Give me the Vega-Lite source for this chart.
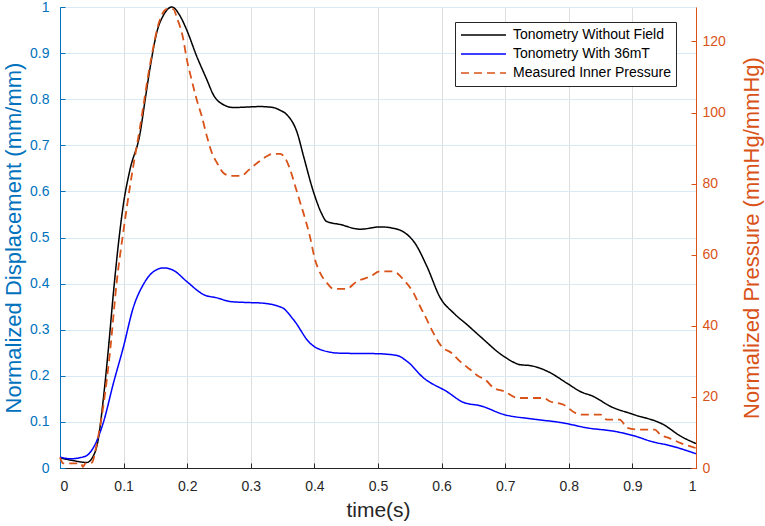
{
  "$schema": "https://vega.github.io/schema/vega-lite/v6.json",
  "description": "Normalized displacement (tonometry) and measured inner pressure over one cycle, dual y axes.",
  "autosize": {"type": "none"},
  "padding": {"left": 60, "top": 7, "right": 69, "bottom": 58},
  "width": 636,
  "height": 461,
  "background": "white",
  "config": {
    "view": {"stroke": null},
    "font": "Liberation Sans",
    "axis": {"labelFont": "Liberation Sans", "titleFont": "Liberation Sans", "titleFontWeight": "normal", "domainWidth": 1, "tickWidth": 1},
    "legend": {
      "title": null,
      "orient": "none",
      "legendX": 395,
      "legendY": 15,
      "direction": "vertical",
      "symbolType": "stroke",
      "symbolSize": 2025,
      "symbolStrokeWidth": 1.6,
      "clipHeight": 16,
      "labelFontSize": 14,
      "labelColor": "#000000",
      "labelFont": "Liberation Sans",
      "labelOffset": 6,
      "rowPadding": 3,
      "padding": 5,
      "strokeColor": "#262626",
      "fillColor": "#ffffff",
      "cornerRadius": 0
    }
  },
  "data": {
    "values": [
      {"series": "Tonometry Without Field", "t": 0, "v": 0.022},
      {"series": "Tonometry Without Field", "t": 0.021, "v": 0.016},
      {"series": "Tonometry Without Field", "t": 0.042, "v": 0.012},
      {"series": "Tonometry Without Field", "t": 0.052, "v": 0.025},
      {"series": "Tonometry Without Field", "t": 0.06, "v": 0.061},
      {"series": "Tonometry Without Field", "t": 0.068, "v": 0.148},
      {"series": "Tonometry Without Field", "t": 0.076, "v": 0.257},
      {"series": "Tonometry Without Field", "t": 0.084, "v": 0.38},
      {"series": "Tonometry Without Field", "t": 0.092, "v": 0.488},
      {"series": "Tonometry Without Field", "t": 0.1, "v": 0.575},
      {"series": "Tonometry Without Field", "t": 0.11, "v": 0.647},
      {"series": "Tonometry Without Field", "t": 0.126, "v": 0.727},
      {"series": "Tonometry Without Field", "t": 0.134, "v": 0.8},
      {"series": "Tonometry Without Field", "t": 0.142, "v": 0.871},
      {"series": "Tonometry Without Field", "t": 0.152, "v": 0.944},
      {"series": "Tonometry Without Field", "t": 0.163, "v": 0.983},
      {"series": "Tonometry Without Field", "t": 0.176, "v": 1.0},
      {"series": "Tonometry Without Field", "t": 0.189, "v": 0.98},
      {"series": "Tonometry Without Field", "t": 0.199, "v": 0.951},
      {"series": "Tonometry Without Field", "t": 0.215, "v": 0.893},
      {"series": "Tonometry Without Field", "t": 0.231, "v": 0.842},
      {"series": "Tonometry Without Field", "t": 0.241, "v": 0.81},
      {"series": "Tonometry Without Field", "t": 0.257, "v": 0.788},
      {"series": "Tonometry Without Field", "t": 0.273, "v": 0.782},
      {"series": "Tonometry Without Field", "t": 0.315, "v": 0.784},
      {"series": "Tonometry Without Field", "t": 0.335, "v": 0.782},
      {"series": "Tonometry Without Field", "t": 0.346, "v": 0.776},
      {"series": "Tonometry Without Field", "t": 0.357, "v": 0.766},
      {"series": "Tonometry Without Field", "t": 0.373, "v": 0.727},
      {"series": "Tonometry Without Field", "t": 0.383, "v": 0.676},
      {"series": "Tonometry Without Field", "t": 0.399, "v": 0.597},
      {"series": "Tonometry Without Field", "t": 0.411, "v": 0.553},
      {"series": "Tonometry Without Field", "t": 0.419, "v": 0.535},
      {"series": "Tonometry Without Field", "t": 0.441, "v": 0.528},
      {"series": "Tonometry Without Field", "t": 0.472, "v": 0.518},
      {"series": "Tonometry Without Field", "t": 0.504, "v": 0.523},
      {"series": "Tonometry Without Field", "t": 0.524, "v": 0.52},
      {"series": "Tonometry Without Field", "t": 0.539, "v": 0.513},
      {"series": "Tonometry Without Field", "t": 0.558, "v": 0.488},
      {"series": "Tonometry Without Field", "t": 0.577, "v": 0.437},
      {"series": "Tonometry Without Field", "t": 0.598, "v": 0.369},
      {"series": "Tonometry Without Field", "t": 0.619, "v": 0.336},
      {"series": "Tonometry Without Field", "t": 0.64, "v": 0.311},
      {"series": "Tonometry Without Field", "t": 0.661, "v": 0.285},
      {"series": "Tonometry Without Field", "t": 0.698, "v": 0.242},
      {"series": "Tonometry Without Field", "t": 0.724, "v": 0.224},
      {"series": "Tonometry Without Field", "t": 0.74, "v": 0.222},
      {"series": "Tonometry Without Field", "t": 0.766, "v": 0.21},
      {"series": "Tonometry Without Field", "t": 0.797, "v": 0.184},
      {"series": "Tonometry Without Field", "t": 0.818, "v": 0.166},
      {"series": "Tonometry Without Field", "t": 0.839, "v": 0.155},
      {"series": "Tonometry Without Field", "t": 0.865, "v": 0.134},
      {"series": "Tonometry Without Field", "t": 0.902, "v": 0.116},
      {"series": "Tonometry Without Field", "t": 0.949, "v": 0.094},
      {"series": "Tonometry Without Field", "t": 0.976, "v": 0.069},
      {"series": "Tonometry Without Field", "t": 1.0, "v": 0.053},

      {"series": "Tonometry With 36mT", "t": 0, "v": 0.024},
      {"series": "Tonometry With 36mT", "t": 0.016, "v": 0.02},
      {"series": "Tonometry With 36mT", "t": 0.039, "v": 0.025},
      {"series": "Tonometry With 36mT", "t": 0.052, "v": 0.043},
      {"series": "Tonometry With 36mT", "t": 0.068, "v": 0.098},
      {"series": "Tonometry With 36mT", "t": 0.084, "v": 0.184},
      {"series": "Tonometry With 36mT", "t": 0.1, "v": 0.264},
      {"series": "Tonometry With 36mT", "t": 0.115, "v": 0.347},
      {"series": "Tonometry With 36mT", "t": 0.131, "v": 0.398},
      {"series": "Tonometry With 36mT", "t": 0.147, "v": 0.426},
      {"series": "Tonometry With 36mT", "t": 0.163, "v": 0.434},
      {"series": "Tonometry With 36mT", "t": 0.178, "v": 0.429},
      {"series": "Tonometry With 36mT", "t": 0.199, "v": 0.405},
      {"series": "Tonometry With 36mT", "t": 0.226, "v": 0.376},
      {"series": "Tonometry With 36mT", "t": 0.247, "v": 0.369},
      {"series": "Tonometry With 36mT", "t": 0.268, "v": 0.361},
      {"series": "Tonometry With 36mT", "t": 0.294, "v": 0.359},
      {"series": "Tonometry With 36mT", "t": 0.315, "v": 0.358},
      {"series": "Tonometry With 36mT", "t": 0.349, "v": 0.348},
      {"series": "Tonometry With 36mT", "t": 0.367, "v": 0.322},
      {"series": "Tonometry With 36mT", "t": 0.393, "v": 0.271},
      {"series": "Tonometry With 36mT", "t": 0.409, "v": 0.257},
      {"series": "Tonometry With 36mT", "t": 0.441, "v": 0.249},
      {"series": "Tonometry With 36mT", "t": 0.498, "v": 0.248},
      {"series": "Tonometry With 36mT", "t": 0.53, "v": 0.244},
      {"series": "Tonometry With 36mT", "t": 0.546, "v": 0.231},
      {"series": "Tonometry With 36mT", "t": 0.572, "v": 0.195},
      {"series": "Tonometry With 36mT", "t": 0.608, "v": 0.166},
      {"series": "Tonometry With 36mT", "t": 0.635, "v": 0.142},
      {"series": "Tonometry With 36mT", "t": 0.661, "v": 0.135},
      {"series": "Tonometry With 36mT", "t": 0.698, "v": 0.116},
      {"series": "Tonometry With 36mT", "t": 0.745, "v": 0.106},
      {"series": "Tonometry With 36mT", "t": 0.79, "v": 0.098},
      {"series": "Tonometry With 36mT", "t": 0.829, "v": 0.087},
      {"series": "Tonometry With 36mT", "t": 0.874, "v": 0.079},
      {"series": "Tonometry With 36mT", "t": 0.902, "v": 0.07},
      {"series": "Tonometry With 36mT", "t": 0.934, "v": 0.056},
      {"series": "Tonometry With 36mT", "t": 0.955, "v": 0.05},
      {"series": "Tonometry With 36mT", "t": 1.0, "v": 0.031},

      {"series": "Measured Inner Pressure", "t": 0, "v": 3.0},
      {"series": "Measured Inner Pressure", "t": 0.005, "v": 1.3},
      {"series": "Measured Inner Pressure", "t": 0.033, "v": 1.3},
      {"series": "Measured Inner Pressure", "t": 0.036, "v": 0.3},
      {"series": "Measured Inner Pressure", "t": 0.04, "v": 1.3},
      {"series": "Measured Inner Pressure", "t": 0.05, "v": 1.5},
      {"series": "Measured Inner Pressure", "t": 0.058, "v": 7},
      {"series": "Measured Inner Pressure", "t": 0.068, "v": 17.3},
      {"series": "Measured Inner Pressure", "t": 0.079, "v": 33.3},
      {"series": "Measured Inner Pressure", "t": 0.089, "v": 52},
      {"series": "Measured Inner Pressure", "t": 0.1, "v": 67},
      {"series": "Measured Inner Pressure", "t": 0.11, "v": 79.2},
      {"series": "Measured Inner Pressure", "t": 0.126, "v": 96.1},
      {"series": "Measured Inner Pressure", "t": 0.142, "v": 113.9},
      {"series": "Measured Inner Pressure", "t": 0.157, "v": 126.1},
      {"series": "Measured Inner Pressure", "t": 0.168, "v": 129.1},
      {"series": "Measured Inner Pressure", "t": 0.178, "v": 129.1},
      {"series": "Measured Inner Pressure", "t": 0.184, "v": 126.6},
      {"series": "Measured Inner Pressure", "t": 0.194, "v": 120.5},
      {"series": "Measured Inner Pressure", "t": 0.199, "v": 115.3},
      {"series": "Measured Inner Pressure", "t": 0.207, "v": 109.2},
      {"series": "Measured Inner Pressure", "t": 0.215, "v": 103.6},
      {"series": "Measured Inner Pressure", "t": 0.223, "v": 98.9},
      {"series": "Measured Inner Pressure", "t": 0.231, "v": 93.3},
      {"series": "Measured Inner Pressure", "t": 0.239, "v": 88.6},
      {"series": "Measured Inner Pressure", "t": 0.247, "v": 85.8},
      {"series": "Measured Inner Pressure", "t": 0.257, "v": 83},
      {"series": "Measured Inner Pressure", "t": 0.268, "v": 82.2},
      {"series": "Measured Inner Pressure", "t": 0.286, "v": 82.2},
      {"series": "Measured Inner Pressure", "t": 0.294, "v": 83.4},
      {"series": "Measured Inner Pressure", "t": 0.31, "v": 85.8},
      {"series": "Measured Inner Pressure", "t": 0.325, "v": 87.7},
      {"series": "Measured Inner Pressure", "t": 0.335, "v": 88.4},
      {"series": "Measured Inner Pressure", "t": 0.346, "v": 88.4},
      {"series": "Measured Inner Pressure", "t": 0.354, "v": 87.2},
      {"series": "Measured Inner Pressure", "t": 0.362, "v": 83.9},
      {"series": "Measured Inner Pressure", "t": 0.37, "v": 79.2},
      {"series": "Measured Inner Pressure", "t": 0.378, "v": 74.5},
      {"series": "Measured Inner Pressure", "t": 0.386, "v": 69.8},
      {"series": "Measured Inner Pressure", "t": 0.393, "v": 65.1},
      {"series": "Measured Inner Pressure", "t": 0.401, "v": 58.6},
      {"series": "Measured Inner Pressure", "t": 0.409, "v": 54.9},
      {"series": "Measured Inner Pressure", "t": 0.42, "v": 52},
      {"series": "Measured Inner Pressure", "t": 0.43, "v": 50.4},
      {"series": "Measured Inner Pressure", "t": 0.45, "v": 50.4},
      {"series": "Measured Inner Pressure", "t": 0.467, "v": 52.5},
      {"series": "Measured Inner Pressure", "t": 0.488, "v": 53.9},
      {"series": "Measured Inner Pressure", "t": 0.503, "v": 55.3},
      {"series": "Measured Inner Pressure", "t": 0.524, "v": 55.3},
      {"series": "Measured Inner Pressure", "t": 0.54, "v": 53},
      {"series": "Measured Inner Pressure", "t": 0.556, "v": 49.2},
      {"series": "Measured Inner Pressure", "t": 0.566, "v": 45.5},
      {"series": "Measured Inner Pressure", "t": 0.577, "v": 41.7},
      {"series": "Measured Inner Pressure", "t": 0.587, "v": 38},
      {"series": "Measured Inner Pressure", "t": 0.6, "v": 34.2},
      {"series": "Measured Inner Pressure", "t": 0.616, "v": 32.3},
      {"series": "Measured Inner Pressure", "t": 0.629, "v": 30},
      {"series": "Measured Inner Pressure", "t": 0.645, "v": 27.7},
      {"series": "Measured Inner Pressure", "t": 0.658, "v": 25.8},
      {"series": "Measured Inner Pressure", "t": 0.669, "v": 24.8},
      {"series": "Measured Inner Pressure", "t": 0.682, "v": 22.5},
      {"series": "Measured Inner Pressure", "t": 0.698, "v": 21.6},
      {"series": "Measured Inner Pressure", "t": 0.72, "v": 19.7},
      {"series": "Measured Inner Pressure", "t": 0.76, "v": 19.7},
      {"series": "Measured Inner Pressure", "t": 0.771, "v": 18.7},
      {"series": "Measured Inner Pressure", "t": 0.792, "v": 17.8},
      {"series": "Measured Inner Pressure", "t": 0.81, "v": 15.5},
      {"series": "Measured Inner Pressure", "t": 0.82, "v": 15},
      {"series": "Measured Inner Pressure", "t": 0.85, "v": 15},
      {"series": "Measured Inner Pressure", "t": 0.86, "v": 13.6},
      {"series": "Measured Inner Pressure", "t": 0.88, "v": 13.6},
      {"series": "Measured Inner Pressure", "t": 0.892, "v": 11.3},
      {"series": "Measured Inner Pressure", "t": 0.91, "v": 10.8},
      {"series": "Measured Inner Pressure", "t": 0.935, "v": 10.8},
      {"series": "Measured Inner Pressure", "t": 0.944, "v": 9.4},
      {"series": "Measured Inner Pressure", "t": 0.958, "v": 8.4},
      {"series": "Measured Inner Pressure", "t": 0.976, "v": 7},
      {"series": "Measured Inner Pressure", "t": 1.0, "v": 5.6}
    ]
  },
  "encoding": {
    "x": {
      "field": "t",
      "type": "quantitative",
      "scale": {"domain": [0, 1], "nice": false},
      "axis": {
        "title": "time(s)",
        "values": [0, 0.1, 0.2, 0.3, 0.4, 0.5, 0.6, 0.7, 0.8, 0.9, 1],
        "format": ".1~f",
        "labelFontSize": 14,
        "labelColor": "#262626",
        "labelPadding": 16,
        "tickSize": -5,
        "tickColor": "#262626",
        "domainColor": "#262626",
        "grid": true,
        "gridColor": "#dedede",
        "titleFontSize": 21,
        "titleColor": "#262626",
        "titleX": 318,
        "titleY": 48,
        "titleBaseline": "alphabetic"
      }
    },
    "color": {
      "field": "series",
      "type": "nominal",
      "scale": {
        "domain": ["Tonometry Without Field", "Tonometry With 36mT", "Measured Inner Pressure"],
        "range": ["#000000", "#0000ff", "#d95319"]
      },
      "legend": {"title": null}
    },
    "strokeDash": {
      "field": "series",
      "type": "nominal",
      "scale": {
        "domain": ["Tonometry Without Field", "Tonometry With 36mT", "Measured Inner Pressure"],
        "range": [[1, 0], [1, 0], [8, 5]]
      },
      "legend": {"title": null}
    }
  },
  "layer": [
    {
      "transform": [{"filter": "datum.series !== 'Measured Inner Pressure'"}],
      "mark": {"type": "line", "strokeWidth": 1.5, "interpolate": "monotone"},
      "encoding": {
        "y": {
          "field": "v",
          "type": "quantitative",
          "scale": {"domain": [0, 1], "nice": false},
          "axis": {
            "orient": "left",
            "title": "Normalized Displacement (mm/mm)",
            "values": [0, 0.1, 0.2, 0.3, 0.4, 0.5, 0.6, 0.7, 0.8, 0.9, 1],
            "format": ".1~f",
            "labelFontSize": 14,
            "labelColor": "#0072bd",
            "labelPadding": 16,
            "tickSize": -5,
            "tickColor": "#0072bd",
            "domainColor": "#0072bd",
            "grid": true,
            "gridColor": "#d9eaf5",
            "titleFontSize": 22,
            "titleColor": "#0072bd",
            "titleAngle": 270,
            "titleX": -47,
            "titleY": 230.5,
            "titleAlign": "center",
            "titleBaseline": "middle"
          }
        },
        "order": {"field": "t", "type": "quantitative"}
      }
    },
    {
      "transform": [{"filter": "datum.series === 'Measured Inner Pressure'"}],
      "mark": {"type": "line", "strokeWidth": 1.8, "interpolate": "monotone"},
      "encoding": {
        "y": {
          "field": "v",
          "type": "quantitative",
          "scale": {"domain": [0, 129.7], "nice": false},
          "axis": {
            "orient": "right",
            "title": "Normalized Pressure (mmHg/mmHg)",
            "values": [0, 20, 40, 60, 80, 100, 120],
            "labelFontSize": 14,
            "labelColor": "#d95319",
            "labelPadding": 11,
            "tickSize": -5,
            "tickColor": "#d95319",
            "domainColor": "#d95319",
            "grid": false,
            "titleFontSize": 22,
            "titleColor": "#d95319",
            "titleAngle": 270,
            "titleX": 55,
            "titleY": 230.5,
            "titleAlign": "center",
            "titleBaseline": "middle"
          }
        },
        "order": {"field": "t", "type": "quantitative"}
      }
    }
  ],
  "resolve": {"scale": {"y": "independent"}}
}
